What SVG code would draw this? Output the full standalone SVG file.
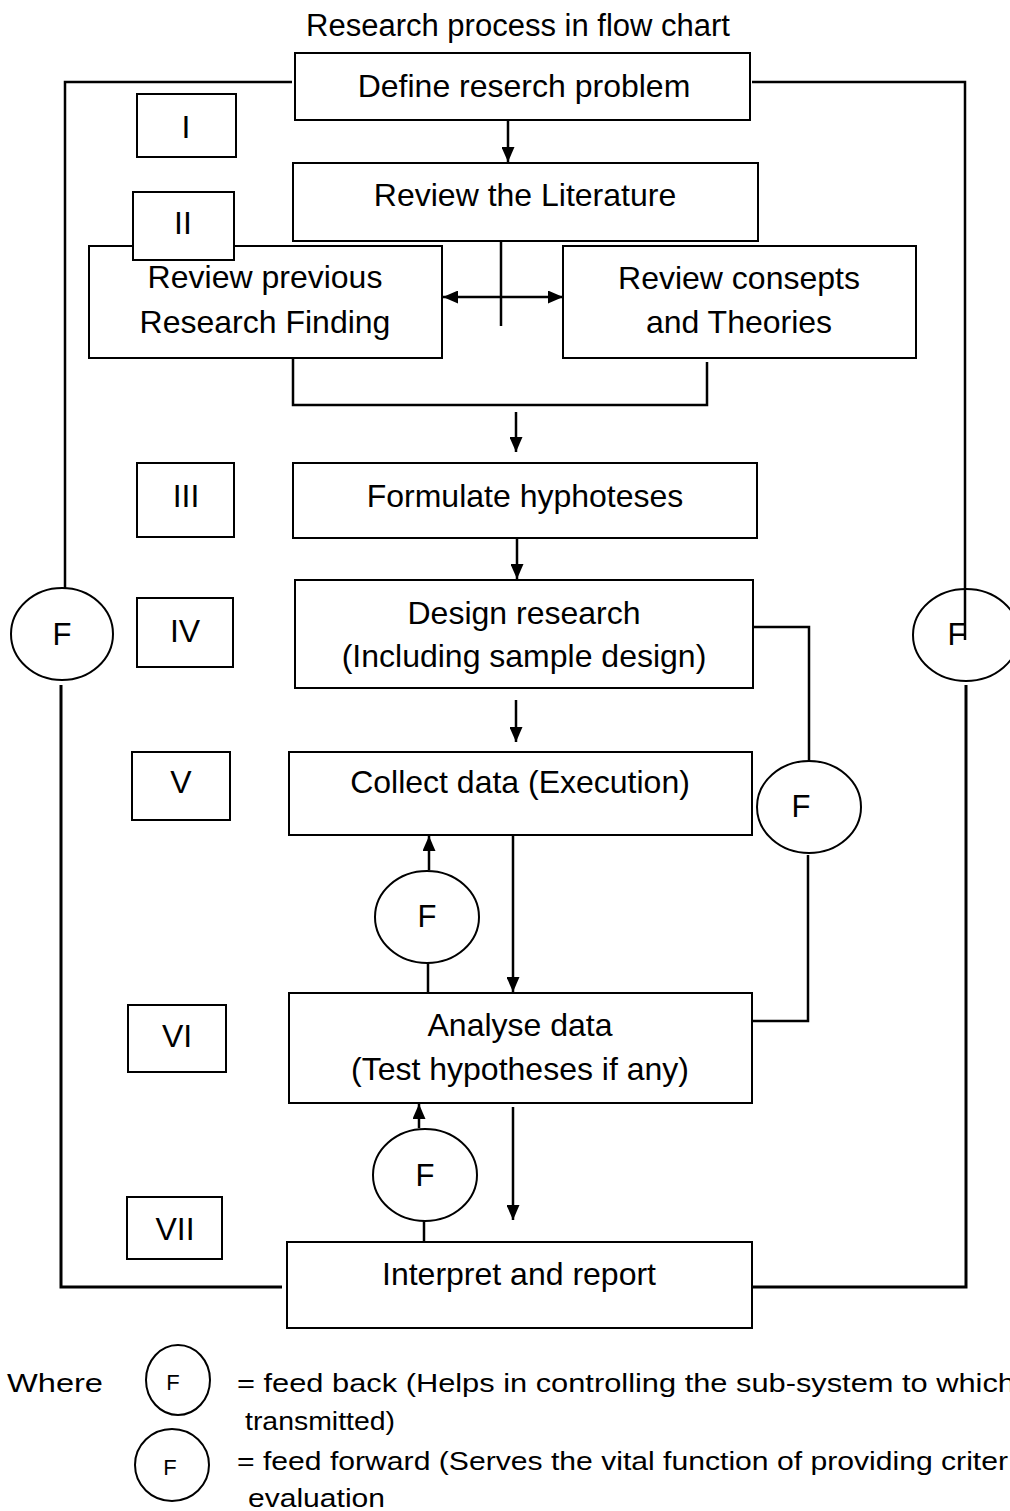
<svg xmlns="http://www.w3.org/2000/svg" width="1010" height="1511" viewBox="0 0 1010 1511">
<defs>
<marker id="ah" viewBox="0 0 15 13" refX="15" refY="6.5" markerWidth="15" markerHeight="13" markerUnits="userSpaceOnUse" orient="auto-start-reverse">
<path d="M0,0 L15,6.5 L0,13 z" fill="#000"/>
</marker>
<style>
.box{fill:#fff;stroke:#000;stroke-width:2}
.circ{fill:#fff;stroke:#000;stroke-width:2}
.t{font-family:"Liberation Sans",Arial,sans-serif;font-size:32px;fill:#000;text-anchor:middle}
.f{font-family:"Liberation Sans",Arial,sans-serif;font-size:31px;fill:#000;text-anchor:middle}
.lg{font-family:"Liberation Sans",Arial,sans-serif;font-size:26px;fill:#000}
.ln{fill:none;stroke:#000;stroke-width:2.5}
.thick{fill:none;stroke:#000;stroke-width:3}
.ar{fill:none;stroke:#000;stroke-width:2.5;marker-end:url(#ah)}
</style>
</defs>
<rect width="1010" height="1511" fill="#fff"/>

<text class="t" x="518" y="36" style="font-size:31px">Research process in flow chart</text>

<g id="connectors">
<polyline class="ln" points="292,82 65,82 65,588"/>
<polyline class="thick" points="61,685 61,1287 282,1287"/>
<polyline class="ln" points="752,82 965,82 965,640"/>
<polyline class="thick" points="966,685 966,1287 752,1287"/>
<polyline class="ln" points="753,627 809,627 809,761"/>
<polyline class="ln" points="808,855 808,1021 752,1021"/>
<line class="ar" x1="508" y1="120" x2="508" y2="162"/>
<line class="ln" x1="501" y1="213" x2="501" y2="326"/>
<line class="ar" x1="443" y1="297" x2="563" y2="297" style="marker-start:url(#ah)"/>
<polyline class="ln" points="293,358 293,405 707,405 707,362"/>
<line class="ar" x1="516" y1="412" x2="516" y2="452"/>
<line class="ar" x1="517" y1="538" x2="517" y2="579"/>
<line class="ar" x1="516" y1="700" x2="516" y2="742"/>
<line class="ar" x1="513" y1="835" x2="513" y2="992"/>
<line class="ar" x1="429" y1="870" x2="429" y2="836"/>
<line class="ln" x1="428" y1="963" x2="428" y2="993"/>
<line class="ar" x1="513" y1="1107" x2="513" y2="1220"/>
<line class="ar" x1="419" y1="1128" x2="419" y2="1104"/>
<line class="ln" x1="424" y1="1221" x2="424" y2="1243"/>
</g>

<g id="n-define"><rect class="box" x="295" y="53" width="455" height="67"/><text class="t" x="524" y="97">Define reserch problem</text></g>
<g id="n-I"><rect class="box" x="137" y="94" width="99" height="63"/><text class="t" x="186" y="138">I</text></g>
<g id="n-literature"><rect class="box" x="293" y="163" width="465" height="78"/><text class="t" x="525" y="206">Review the Literature</text></g>
<g id="n-previous"><rect class="box" x="89" y="246" width="353" height="112"/><text class="t" x="265" y="288">Review previous</text><text class="t" x="265" y="333">Research Finding</text></g>
<g id="n-II"><rect class="box" x="133" y="192" width="101" height="68"/><text class="t" x="183" y="234">II</text></g>
<g id="n-concepts"><rect class="box" x="563" y="246" width="353" height="112"/><text class="t" x="739" y="289">Review consepts</text><text class="t" x="739" y="333">and Theories</text></g>
<g id="n-III"><rect class="box" x="137" y="463" width="97" height="74"/><text class="t" x="186" y="507">III</text></g>
<g id="n-formulate"><rect class="box" x="293" y="463" width="464" height="75"/><text class="t" x="525" y="507">Formulate hyphoteses</text></g>
<g id="n-IV"><rect class="box" x="137" y="598" width="96" height="69"/><text class="t" x="185" y="642">IV</text></g>
<g id="n-design"><rect class="box" x="295" y="580" width="458" height="108"/><text class="t" x="524" y="624">Design research</text><text class="t" x="524" y="667">(Including sample design)</text></g>
<g id="n-V"><rect class="box" x="132" y="752" width="98" height="68"/><text class="t" x="181" y="793">V</text></g>
<g id="n-collect"><rect class="box" x="289" y="752" width="463" height="83"/><text class="t" x="520" y="793">Collect data (Execution)</text></g>
<g id="n-VI"><rect class="box" x="128" y="1005" width="98" height="67"/><text class="t" x="177" y="1047">VI</text></g>
<g id="n-analyse"><rect class="box" x="289" y="993" width="463" height="110"/><text class="t" x="520" y="1036">Analyse data</text><text class="t" x="520" y="1080">(Test hypotheses if any)</text></g>
<g id="n-VII"><rect class="box" x="127" y="1197" width="95" height="62"/><text class="t" x="175" y="1240">VII</text></g>
<g id="n-interpret"><rect class="box" x="287" y="1242" width="465" height="86"/><text class="t" x="519" y="1285">Interpret and report</text></g>

<g id="f-left"><ellipse class="circ" cx="62" cy="634" rx="51" ry="46"/><text class="f" x="62" y="645">F</text></g>
<g id="f-right"><ellipse class="circ" cx="966" cy="635" rx="53" ry="46"/><line class="ln" x1="965" y1="589" x2="965" y2="640"/><text class="f" x="957" y="645">F</text></g>
<g id="f-design"><ellipse class="circ" cx="809" cy="807" rx="52" ry="46"/><text class="f" x="801" y="817">F</text></g>
<g id="f-collect"><ellipse class="circ" cx="427" cy="917" rx="52" ry="46"/><text class="f" x="427" y="927">F</text></g>
<g id="f-analyse"><ellipse class="circ" cx="425" cy="1175" rx="52" ry="46"/><text class="f" x="425" y="1186">F</text></g>

<g id="legend">
<text class="lg" x="7" y="1392" textLength="96" lengthAdjust="spacingAndGlyphs">Where</text>
<ellipse class="circ" cx="178" cy="1380" rx="32" ry="35"/>
<text class="lg" x="173" y="1390" text-anchor="middle" style="font-size:22px">F</text>
<text class="lg" x="237" y="1392" textLength="778" lengthAdjust="spacingAndGlyphs">= feed back (Helps in controlling the sub-system to which</text>
<text class="lg" x="245" y="1430" textLength="150" lengthAdjust="spacingAndGlyphs">transmitted)</text>
<ellipse class="circ" cx="172" cy="1465" rx="37" ry="36"/>
<text class="lg" x="170" y="1475" text-anchor="middle" style="font-size:22px">F</text>
<text class="lg" x="237" y="1470" textLength="771" lengthAdjust="spacingAndGlyphs">= feed forward (Serves the vital function of providing criter</text>
<text class="lg" x="248" y="1507" textLength="137" lengthAdjust="spacingAndGlyphs">evaluation</text>
</g>
</svg>
